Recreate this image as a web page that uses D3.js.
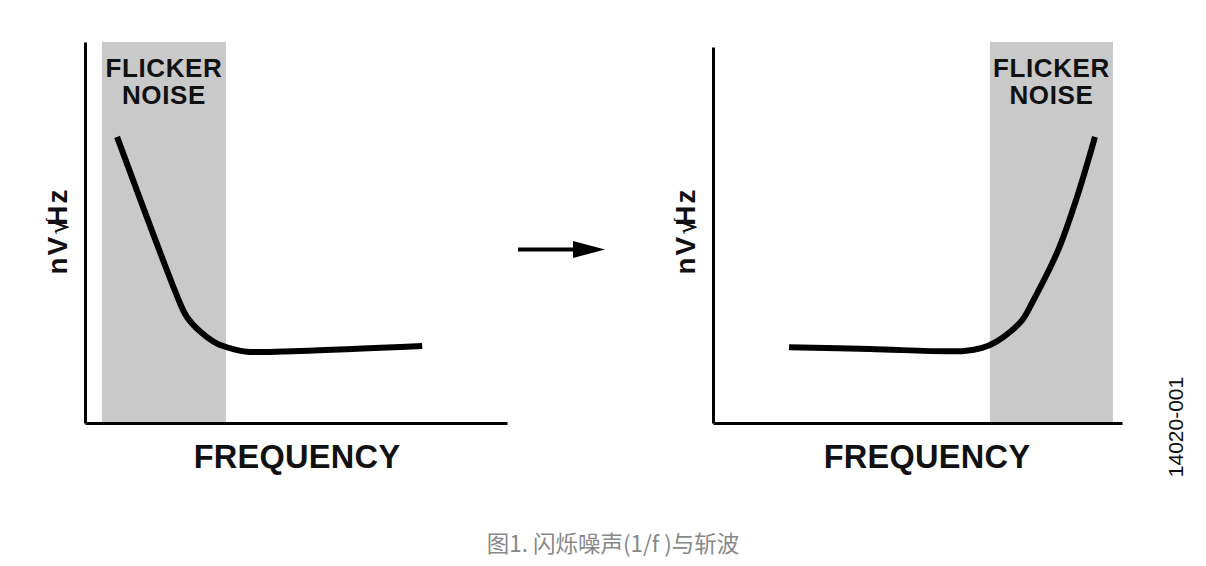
<!DOCTYPE html>
<html>
<head>
<meta charset="utf-8">
<script src="https://cdn.jsdelivr.net/npm/d3@7"></script>
<style>
  body { margin: 0; background: #fff; }
  svg { display: block; }
</style>
</head>
<body>
<script>
// Curve data (arbitrary 0-100 units on both axes)
const leftFreq = [7.6, 22.5, 24.1, 27.3, 31.2, 35.1, 38.3, 50.9, 79.9];
const leftNoise = [75.1, 31.5, 27.9, 24.0, 20.9, 19.4, 18.7, 18.9, 20.2];
const rightFreq = [18.6, 38.4, 61.4, 65.8, 69.2, 72.6, 75.6, 78.0, 84.4, 89.0, 93.4];
const rightNoise = [19.9, 19.4, 18.9, 19.7, 21.3, 23.9, 27.0, 31.5, 45.4, 59.3, 75.1];

// Flicker-noise shaded regions [start, end] in frequency units
const leftBand = [4.0, 33.4];
const rightBand = [67.7, 97.8];

const bandLabel = ["FLICKER", "NOISE"];
const xLabel = "FREQUENCY";
const figId = "14020-001";
const caption = "图1. 闪烁噪声(1/f )与斩波";

const W = 1206,
  H = 566;

const svg = d3
  .select("body")
  .append("svg")
  .attr("width", W)
  .attr("height", H)
  .attr("viewBox", `0 0 ${W} ${H}`);

const panels = [
  { x0: 85, x1: 507, axisTop: 42, labelX: 297, yLabelX: 67, freq: leftFreq, noise: leftNoise, band: leftBand },
  { x0: 713, x1: 1122, axisTop: 47, labelX: 927, yLabelX: 695, freq: rightFreq, noise: rightNoise, band: rightBand },
];

const yBottom = 423,
  yTop = 42;

panels.forEach((p) => {
  const x = d3.scaleLinear().domain([0, 100]).range([p.x0, p.x1]);
  const y = d3.scaleLinear().domain([0, 100]).range([yBottom, yTop]);
  const yAxisScale = d3.scaleLinear().domain([0, 100]).range([yBottom, p.axisTop]);

  const g = svg.append("g");

  // shaded region
  g.append("rect")
    .attr("x", x(p.band[0]))
    .attr("y", y(100))
    .attr("width", x(p.band[1]) - x(p.band[0]))
    .attr("height", y(0) - y(100))
    .attr("fill", "#c9c9c9");

  const bx = x((p.band[0] + p.band[1]) / 2);
  g.append("text")
    .attr("x", bx)
    .attr("y", 77)
    .attr("text-anchor", "middle")
    .style("font", "bold 26px 'Liberation Sans', Arial, sans-serif")
    .style("letter-spacing", "0.6px")
    .attr("fill", "#111")
    .selectAll("tspan")
    .data(bandLabel)
    .join("tspan")
    .attr("x", bx)
    .attr("dy", (d, i) => (i ? 27 : 0))
    .text((d) => d);

  // axes, no ticks
  g.append("g")
    .attr("transform", `translate(0,${yBottom})`)
    .call(d3.axisBottom(x).tickValues([]).tickSizeOuter(0))
    .select(".domain")
    .attr("stroke", "#000")
    .attr("stroke-width", 3);

  g.append("g")
    .attr("transform", `translate(${p.x0},0)`)
    .call(d3.axisLeft(yAxisScale).tickValues([]).tickSizeOuter(0))
    .select(".domain")
    .attr("stroke", "#000")
    .attr("stroke-width", 3);

  // noise curve
  const line = d3
    .line()
    .x((d) => x(d[0]))
    .y((d) => y(d[1]))
    .curve(d3.curveCatmullRom.alpha(0.5));

  g.append("path")
    .datum(d3.zip(p.freq, p.noise))
    .attr("d", line)
    .attr("fill", "none")
    .attr("stroke", "#000")
    .attr("stroke-width", 6)
    .attr("stroke-linejoin", "round");

  // axis titles
  g.append("text")
    .attr("x", p.labelX)
    .attr("y", 468)
    .attr("text-anchor", "middle")
    .style("font", "bold 32.5px 'Liberation Sans', Arial, sans-serif")
    .style("letter-spacing", "0.3px")
    .attr("fill", "#111")
    .text(xLabel);

  const yl = g
    .append("text")
    .attr("transform", `translate(${p.yLabelX},231) rotate(-90)`)
    .attr("text-anchor", "middle")
    .style("font", "bold 28px 'Liberation Sans', Arial, sans-serif")
    .style("letter-spacing", "2px")
    .attr("fill", "#111");
  yl.append("tspan").text("nV");
  yl.append("tspan")
    .style("font-weight", "normal")
    .style("font-size", "26px")
    .style("font-family", "'DejaVu Sans', sans-serif")
    .style("letter-spacing", "0px")
    .attr("dx", 0)
    .text("√");
  yl.append("tspan")
    .style("font-weight", "normal")
    .style("font-size", "22px")
    .style("font-family", "'DejaVu Sans', sans-serif")
    .style("letter-spacing", "0px")
    .attr("dx", -10)
    .text("/");
  yl.append("tspan").attr("dx", -5).text("Hz");
});

// arrow between panels
svg.append("line")
  .attr("x1", 518)
  .attr("x2", 576)
  .attr("y1", 249.5)
  .attr("y2", 249.5)
  .attr("stroke", "#000")
  .attr("stroke-width", 4);
svg.append("path")
  .attr("d", "M573,241 L605,249.5 L573,258 Z")
  .attr("fill", "#000");

// figure id
svg.append("text")
  .attr("transform", "translate(1183,427) rotate(-90)")
  .attr("text-anchor", "middle")
  .style("font", "21px 'Liberation Sans', Arial, sans-serif")
  .attr("fill", "#111")
  .text(figId);

// caption
svg.append("text")
  .attr("x", 613)
  .attr("y", 552)
  .attr("text-anchor", "middle")
  .style("font", "22.5px 'Noto Sans CJK SC', sans-serif")
  .attr("fill", "#888")
  .text(caption);
</script>
</body>
</html>
